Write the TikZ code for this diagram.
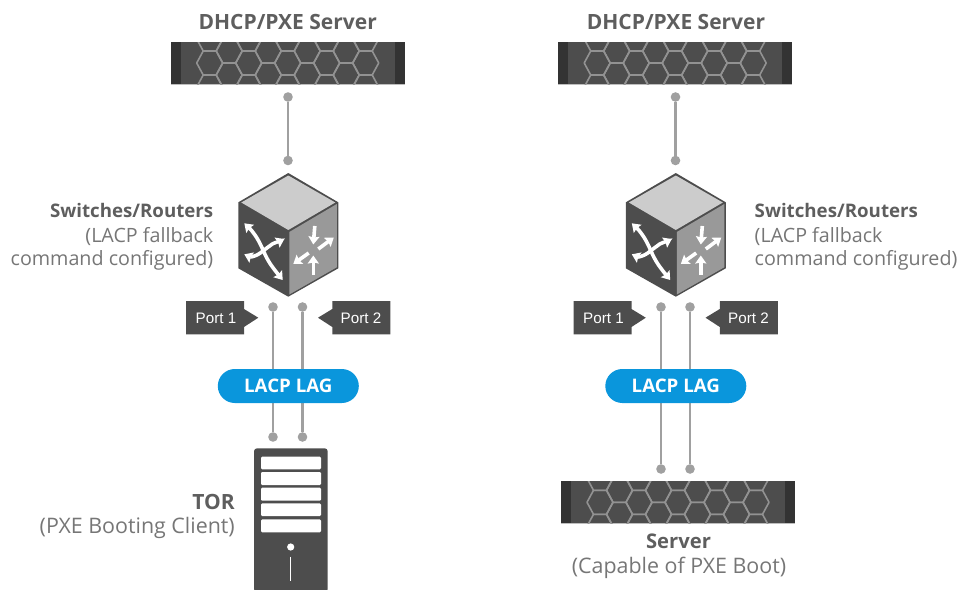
\documentclass[tikz,border=0pt]{standalone}
\usepackage{fontspec}
\setmainfont{Open Sans}
\newfontfamily\portfont{Liberation Sans}
\usetikzlibrary{arrows.meta,shapes.misc}
\definecolor{bodydark}{HTML}{4D4D4D}
\definecolor{enddark}{HTML}{333333}
\definecolor{hexline}{HTML}{929292}
\definecolor{wire}{HTML}{A0A0A0}
\definecolor{lag}{HTML}{0A96DC}
\definecolor{txt}{HTML}{767676}
\definecolor{txtb}{HTML}{5E5E5E}
\tikzset{
  x=1pt,y=-1pt,
  dot/.style={circle,fill=wire,draw=none,inner sep=0pt,minimum size=9.6pt},
  wireline/.style={draw=wire,line width=2.7pt},
  lagpill/.style={rounded rectangle,fill=lag,text=white,minimum width=141pt,minimum height=34pt,inner sep=0pt,font=\fontsize{18.7}{20}\selectfont\bfseries},
  head/.style={text=txtb,inner sep=0pt,font=\fontsize{#1}{24}\selectfont\bfseries},
  sub/.style={text=txt,inner sep=0pt,font=\fontsize{#1}{24}\selectfont},
  portlbl/.style={text=white,inner sep=0pt,font=\fontsize{15.2}{17}\portfont\selectfont},
  wa/.style={draw=white,line width=3.6pt,-{Stealth[length=8pt,width=11pt,inset=1pt]}},
  wb/.style={draw=white,line width=3.6pt,{Stealth[length=8pt,width=11pt,inset=1pt]}-{Stealth[length=8pt,width=11pt,inset=1pt]}},
  server/.pic={
    \fill[bodydark] (0,0) rectangle (234,42);
    \fill[enddark] (0,0) rectangle (10,42);
    \fill[enddark] (224,0) rectangle (234,42);
    \draw[hexline!60!white,line width=.6pt] (0,42) -- (234,42);
    \begin{scope}
      \clip (0,0) rectangle (234,42);
      \foreach \cy in {-3,21,45}
        \foreach \cx in {39,78,117,156,195}
          \draw[hexline,line width=1.6pt,line join=round]
            (\cx-13,\cy) -- (\cx-6.5,\cy-12) -- (\cx+6.5,\cy-12) -- (\cx+13,\cy)
            -- (\cx+6.5,\cy+12) -- (\cx-6.5,\cy+12) -- cycle;
      \foreach \cy in {9,33}
        \foreach \cx in {58.5,97.5,136.5,175.5}
          \draw[hexline,line width=1.6pt,line join=round]
            (\cx-13,\cy) -- (\cx-6.5,\cy-12) -- (\cx+6.5,\cy-12) -- (\cx+13,\cy)
            -- (\cx+6.5,\cy+12) -- (\cx-6.5,\cy+12) -- cycle;
    \end{scope}
  },
  cube/.pic={
    % origin = apex of the cube
    \fill[bodydark] (0,0) -- (50,29.3) -- (50,95.3) -- (0,123.7) -- (-50,95.3) -- (-50,29.3) -- cycle;
    \fill[black!20] (0,2.5) -- (47,29.5) -- (0,57) -- (-47,29.5) -- cycle;
    \fill[black!40] (1,59) -- (48.5,31) -- (48.5,94.3) -- (1,121.5) -- cycle;
    % crossing arrows on the left face
    \draw[wb] (-44,50.3) .. controls (-38,56) and (-36,58) .. (-32,64)
              .. controls (-27,72) and (-26,76) .. (-22,84)
              .. controls (-18,92) and (-12,99) .. (-5.6,107);
    \draw[wb] (-44,81.3) .. controls (-38,84) and (-34,84) .. (-28,80)
              .. controls (-23,76) and (-20,74) .. (-16,71)
              .. controls (-12,69) and (-8,68) .. (-4,66);
    % four arrows on the right face
    \draw[wa] (26.5,53) -- (25,71.5);
    \draw[wa] (30,76) -- (45.5,64.5);
    \draw[wa] (20.4,80) -- (5,91);
    \draw[wa] (25,102) -- (25,82.5);
  },
  porta/.pic={
    \fill[bodydark] (0,0) -- (58,0) -- (58,8) -- (72.3,16.7) -- (58,26) -- (58,33.3) -- (0,33.3) -- cycle;
  },
  portb/.pic={
    \fill[bodydark] (58,0) -- (0,0) -- (0,8) -- (-14.3,16.7) -- (0,26) -- (0,33.3) -- (58,33.3) -- cycle;
  }
}
\begin{document}
\begin{tikzpicture}
\useasboundingbox (0,0) rectangle (957,589);
% ---------- left column
\node[head=21] (t1) at (287.7,22) {DHCP/PXE Server};
\pic at (170.7,42) {server};
\node[dot] (a1) at (288,97) {};
\node[dot] (a2) at (288,160.5) {};
\draw[wireline] (a1) -- (a2);
\pic at (288.3,173) {cube};
\node[head=18.7,anchor=east] (s1) at (213.5,210.5) {Switches/Routers};
\node[sub=19.7,anchor=east] (s1b) at (213.5,236.2) {(LACP fallback};
\node[sub=19.7,anchor=east] (s1c) at (213.5,260.2) {command configured)};
\pic at (186,301) {porta};
\pic at (332.3,301) {portb};
\node[portlbl] (p1) at (216,318) {Port 1};
\node[portlbl] (p2) at (361,318) {Port 2};
\node[dot] (b1) at (273,307) {};
\node[dot] (b2) at (302.5,307) {};
\node[dot] (c1) at (273,437) {};
\node[dot] (c2) at (302.5,437) {};
\draw[wireline] (b1) -- (c1);
\draw[wireline] (b2) -- (c2);
\node[lagpill] (l1) at (288.3,386) {LACP LAG};
% tower
\fill[bodydark,rounded corners=3pt] (254,592) -- (254,448.3) -- (327.7,448.3) -- (327.7,592) -- cycle;
\foreach \ya/\yb in {456.7/469.3,472/485,487.7/500.7,503.3/516,519.3/532.3}
  \fill[white,rounded corners=1.2pt] (261,\ya) rectangle (321,\yb);
\fill[white] (290.7,547) circle (3.6);
\draw[white,line width=1.5pt] (290.7,556.7) -- (290.7,580.7);
\node[head=21,anchor=east] (c1t) at (235,502) {TOR};
\node[sub=21.4,anchor=east] (c1s) at (235,527.5) {(PXE Booting Client)};
% ---------- right column
\node[head=21] (t2) at (676,22) {DHCP/PXE Server};
\pic at (558.2,42) {server};
\node[dot] (d1) at (675.5,97) {};
\node[dot] (d2) at (675.5,160.5) {};
\draw[wireline] (d1) -- (d2);
\pic at (675.8,173) {cube};
\node[head=18.7,anchor=west] (s2) at (754.5,210.5) {Switches/Routers};
\node[sub=19.7,anchor=west] (s2b) at (754.5,236.2) {(LACP fallback};
\node[sub=19.7,anchor=west] (s2c) at (754.5,260.2) {command configured)};
\pic at (573.5,301) {porta};
\pic at (719.8,301) {portb};
\node[portlbl] (p3) at (603.5,318) {Port 1};
\node[portlbl] (p4) at (748.5,318) {Port 2};
\node[dot] (e1) at (661,307) {};
\node[dot] (e2) at (690,307) {};
\node[dot] (f1) at (661,469) {};
\node[dot] (f2) at (690,469) {};
\draw[wireline] (e1) -- (f1);
\draw[wireline] (e2) -- (f2);
\node[lagpill] (l2) at (675.8,386) {LACP LAG};
\pic at (561,481.3) {server};
\node[head=20.2] (c2t) at (678.5,541.5) {Server};
\node[sub=21.4] (c2s) at (679,567.5) {(Capable of PXE Boot)};
\end{tikzpicture}
\end{document}
